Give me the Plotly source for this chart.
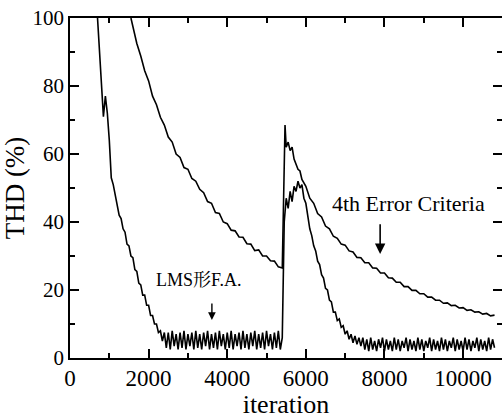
import plotly.graph_objects as go

# ---------------- data ----------------
# LMS curve: regularly sampled segments (start iteration, step, THD values)
lms_seg_descent_start = 700
lms_seg_descent = [100, 90, 80, 71, 77, 72, 64, 53, 51, 48, 45.5, 42, 41, 38, 37,
                   33.5, 33, 30, 29.5, 26, 25.5, 22, 21.5, 18.5, 18.5, 15.5, 15.5,
                   12.5, 12.5, 10, 10, 7.5, 8, 5, 7.5]
lms_seg_plateau1_start = 2450
lms_seg_plateau1 = [3, 7.5, 2.5, 8, 3.5, 7, 2.5, 7.5, 3, 8,
                    2.5, 7, 3.5, 7.5, 2.5, 8, 3, 7, 2.5, 7.5,
                    3.5, 8, 2.5, 7, 3, 7.5, 2.5, 8, 3.5, 7,
                    2.5, 7.5, 3, 8, 2.5, 7, 3.5, 7.5, 2.5, 8,
                    3, 7, 2.5, 7.5, 3.5, 8, 2.5, 7, 3, 7.5,
                    2.5, 8, 3.5, 7, 2.5, 7.5, 3, 8, 2.5, 6]
lms_seg_bump_start = 5450
lms_seg_bump = [40, 47, 44, 49, 46, 50.5, 49, 52, 50, 51,
                47, 45.5, 42, 38, 36, 33, 31.5, 28.5, 27.5, 24.5,
                23.5, 20.5, 20, 17, 16.5, 13.5, 13.5, 11, 11.5, 9,
                9.5, 7, 8, 5.5, 7, 4.5, 6.5, 4, 6, 3.5,
                6]
lms_seg_plateau2_start = 7500
lms_seg_plateau2 = [2.5, 5.5, 2, 6, 2.5, 5, 2, 5.5, 3, 6,
                    2, 5.5, 2.5, 5, 2, 6, 2.5, 5.5, 2, 5,
                    3, 6, 2, 5.5, 2.5, 5, 2, 6, 2.5, 5.5,
                    2, 5, 3, 6, 2, 5.5, 2.5, 5, 2, 6,
                    2.5, 5.5, 2, 5, 3, 6, 2, 5.5, 2.5, 5,
                    2, 6, 2.5, 5.5, 2, 5, 3, 6, 2, 5.5,
                    2.5, 5, 2, 6, 2.5, 5.5, 3]
lms_step = 50

# 4th error criteria curve
fourth_iter = [1550, 1600, 1700, 1800, 1900, 2000, 2100, 2200, 2300, 2400,
               2500, 2600, 2700, 2800, 2900, 3000, 3100, 3200, 3300, 3400,
               3500, 3600, 3700, 3800, 3900, 4000, 4100, 4200, 4300, 4400,
               4500, 4600, 4700, 4800, 4900, 5000, 5100, 5200, 5300, 5400,
               5440, 5470, 5500, 5550, 5600, 5650, 5700, 5750, 5800, 5850,
               5900, 6000, 6100, 6200, 6300, 6400, 6500, 6600, 6700, 6800,
               6900, 7000, 7100, 7200, 7300, 7400, 7500, 7600, 7700, 7800,
               7900, 8000, 8100, 8200, 8300, 8400, 8500, 8600, 8700, 8800,
               8900, 9000, 9100, 9200, 9300, 9400, 9500, 9600, 9700, 9800,
               9900, 10000, 10100, 10200, 10300, 10400, 10500, 10600, 10700, 10800]
fourth_thd = [100, 97.5, 92.5, 88.8, 84.5, 81.5, 77, 74.5, 70.8, 68.5,
              65, 63.5, 60, 59, 56, 55.5, 52.8, 52, 49.6, 48.6,
              46, 45.5, 42.8, 42.5, 40, 39.5, 37.6, 37.4, 35.6, 35.5,
              33.6, 33.5, 31.6, 31.8, 30, 30, 28.6, 28.5, 26.8, 26.5,
              50, 68.5, 62, 63.5, 61, 62, 58.5, 57, 55.5, 55,
              52.5, 50.5, 47, 45.5, 42.5, 41.5, 38.8, 38, 35.8, 35.2,
              33.5, 33.2, 31.5, 31.2, 29.6, 29.5, 28, 28, 26.5, 26.4,
              25, 25, 23.6, 23.5, 22.3, 22.3, 21, 21, 19.9, 19.9,
              18.9, 18.9, 17.9, 17.9, 17, 17, 16.1, 16.2, 15.4, 15.5,
              14.7, 14.8, 14, 14.2, 13.5, 13.6, 12.9, 13.1, 12.4, 12.6]

x_tick_vals = [0, 2000, 4000, 6000, 8000, 10000]
x_tick_text = ["0", "2000", "4000", "6000", "8000", "10000"]
y_tick_vals = [0, 20, 40, 60, 80, 100]

label_4th = "4th Error Criteria"
label_lms = "LMS形F.A."

# ---------------- build LMS series ----------------
lms_iter, lms_thd = [], []
for start, vals in [(lms_seg_descent_start, lms_seg_descent),
                    (lms_seg_plateau1_start, lms_seg_plateau1),
                    (lms_seg_bump_start, lms_seg_bump),
                    (lms_seg_plateau2_start, lms_seg_plateau2)]:
    for i, v in enumerate(vals):
        lms_iter.append(start + i * lms_step)
        lms_thd.append(v)

FONT = "Liberation Serif"
FONT_CJK = "Liberation Serif, Noto Serif CJK SC, Noto Sans CJK SC"

fig = go.Figure()
fig.add_trace(go.Scatter(x=lms_iter, y=lms_thd, mode="lines",
                         line=dict(color="black", width=1.6), showlegend=False))
fig.add_trace(go.Scatter(x=fourth_iter, y=fourth_thd, mode="lines",
                         line=dict(color="black", width=1.6), showlegend=False))

# text labels
fig.add_annotation(x=8600, y=45.3, text=label_4th, showarrow=False,
                   xanchor="center", yanchor="middle",
                   font=dict(family=FONT, size=22, color="black"))
fig.add_annotation(x=3280, y=23, text=label_lms, showarrow=False,
                   xanchor="center", yanchor="middle",
                   font=dict(family=FONT_CJK, size=18, color="black"))
# arrows
fig.add_annotation(x=7890, y=30.6, ax=7890, ay=39.8, axref="x", ayref="y",
                   text="", showarrow=True, arrowhead=2, arrowsize=1.3,
                   arrowwidth=1.6, arrowcolor="black", standoff=0)
fig.add_annotation(x=3610, y=11.2, ax=3610, ay=16.5, axref="x", ayref="y",
                   text="", showarrow=True, arrowhead=2, arrowsize=1.1,
                   arrowwidth=1.4, arrowcolor="black", standoff=0)

fig.update_xaxes(range=[0, 10990], tickvals=x_tick_vals, ticktext=x_tick_text,
                 ticks="inside", ticklen=9, tickwidth=1.5, tickcolor="black",
                 minor=dict(dtick=1000, ticks="inside", ticklen=5, tickwidth=1.5,
                            tickcolor="black", showgrid=False),
                 showline=True, linecolor="black", linewidth=1.8, mirror="ticks",
                 showgrid=False, zeroline=False, ticklabelstandoff=-2,
                 tickfont=dict(family=FONT, size=23, color="black"),
                 title=dict(text="iteration", standoff=0,
                            font=dict(family=FONT, size=26, color="black")))
fig.update_yaxes(range=[0, 100], tickvals=y_tick_vals,
                 ticks="inside", ticklen=9, tickwidth=1.5, tickcolor="black",
                 minor=dict(dtick=10, ticks="inside", ticklen=5, tickwidth=1.5,
                            tickcolor="black", showgrid=False),
                 showline=True, linecolor="black", linewidth=1.8, mirror="ticks",
                 showgrid=False, zeroline=False,
                 tickfont=dict(family=FONT, size=21, color="black"),
                 title=dict(text="THD (%)", standoff=4,
                            font=dict(family=FONT, size=27, color="black")))

fig.update_layout(width=502, height=419,
                  margin=dict(l=70, r=0, t=18, b=61, autoexpand=False),
                  paper_bgcolor="white", plot_bgcolor="white")

fig.write_html("out.html", config={"displayModeBar": False},
               post_script="document.body.style.margin='0px';document.body.style.overflow='hidden';")
